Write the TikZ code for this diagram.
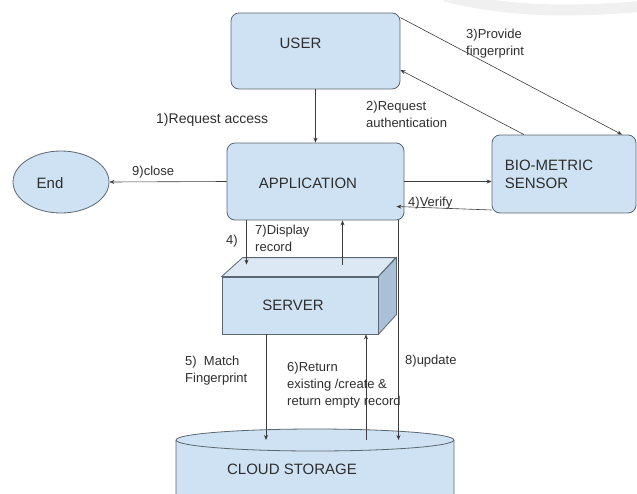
\documentclass[tikz,border=0pt]{standalone}
\usepackage{fontspec}
\setmainfont{Liberation Sans}
\usetikzlibrary{shapes.geometric}
\usetikzlibrary{arrows.meta}
\definecolor{boxfill}{HTML}{CFE2F3}
\definecolor{boxline}{HTML}{5B6770}
\definecolor{topfill}{HTML}{DCE8F4}
\definecolor{sidefill}{HTML}{A9C0D6}
\definecolor{linkcol}{HTML}{3C3C3C}
\definecolor{txtcol}{HTML}{2E2E2E}
\tikzset{
    mybox/.style = {rectangle, rounded corners=8pt, draw=boxline, line width=0.8pt, fill=boxfill, inner sep=0pt},
    mycube/.style = {rectangle, draw=boxline, line width=0.8pt, fill=boxfill, inner sep=0pt},
    myend/.style = {ellipse, draw=boxline, line width=0.8pt, fill=boxfill, inner sep=0pt},
    boxtext/.style = {font=\fontsize{15}{18}\selectfont, text=txtcol, align=left, inner sep=0pt},
    edgen/.style = {-{Stealth[length=5pt,width=4pt]}, line width=0.6pt, draw=linkcol},
    lbl/.style = {anchor=west, inner sep=0pt, align=left, font=\fontsize{13}{17}\selectfont, text=txtcol},
}
\begin{document}
\begin{tikzpicture}[x=1pt,y=-1pt]
\useasboundingbox (0,0) rectangle (637,493);
% faint arc in the top corner
\draw[line width=11pt, draw=gray!12] (445,-4) .. controls (510,13) and (580,12) .. (645,6);
%
\node[mybox, minimum width=169pt, minimum height=76pt, label={[boxtext,xshift=-15pt,yshift=8pt]center:USER}] at (315.5,51) (user) {};
\node[mybox, minimum width=177pt, minimum height=77pt, label={[boxtext,xshift=-7.5pt,yshift=-1.5pt]center:APPLICATION}] at (315.5,181.5) (app) {};
\node[mybox, minimum width=144pt, minimum height=78pt, label={[boxtext,xshift=-15pt]center:BIO-METRIC\\SENSOR}] at (564,174) (bio) {};
\node[myend, minimum width=96pt, minimum height=62pt, label={[boxtext,xshift=-11pt,yshift=-1pt]center:End}] at (61,182) (end) {};
%
% server drawn as a box with top and side faces
\node[mycube, minimum width=156pt, minimum height=57pt, label={[boxtext,xshift=-7pt]center:SERVER}] at (300,305.5) (server) {};
\path[draw=boxline, line width=0.8pt, fill=topfill] (server.north west) -- ++(21,-19) -- ++(153,0) -- (server.north east) -- cycle;
\path[draw=boxline, line width=0.8pt, fill=sidefill] (server.north east) -- ++(18,-19) -- ++(0,57) -- (server.south east) -- cycle;
%
% storage cylinder, cut by the lower edge
\path[draw=boxline, line width=0.8pt, fill=boxfill] (176,440) -- (176,520) -- (454,520) -- (454,440) arc[start angle=0, end angle=-180, x radius=139, y radius=11] -- cycle;
\draw[boxline, line width=0.8pt] (176,440) arc[start angle=180, end angle=0, x radius=139, y radius=11];
\node[boxtext] at (292,469) (cloud) {CLOUD STORAGE};
\coordinate (cloudtop) at (315,440);
\coordinate (srvtop) at ([yshift=12pt]server.north);
%
\draw[edgen] (user) -- (app);
\draw[edgen] ([xshift=-40pt]bio.north) -- ([yshift=-19pt]user.east);
\draw[edgen] ([yshift=-5pt]user.north east) -- ([xshift=58pt]bio.north);
\draw[edgen] (app.east) -- (app.east -| bio.west);
\draw[edgen] ([yshift=-36pt]bio.west) -- ([xshift=-8pt,yshift=-25pt]app.east);
\draw[edgen] (app.west) -- (end.east);
\draw[edgen] ([xshift=-69pt]app.south) -- ([xshift=-69pt]app.south |- srvtop);
\draw[edgen] ([xshift=27pt]app.south |- srvtop) -- ([xshift=27pt]app.south);
\draw[edgen] ([xshift=83pt]app.south) -- ([xshift=83pt]app.south |- cloudtop);
\draw[edgen] ([xshift=-34pt]server.south) -- ([xshift=-34pt]server.south |- cloudtop);
\draw[edgen] ([xshift=66pt]server.south |- cloudtop) -- ([xshift=66pt]server.south);
%
\node[lbl, font=\fontsize{14}{17}\selectfont] at (156,120) (lreq) {1)Request access};
\node[lbl] at (366,114.5) (lauth) {2)Request\\authentication};
\node[lbl] at (466,43.5) (lprov) {3)Provide\\fingerprint};
\node[lbl] at (408,203) (lver) {4)Verify};
\node[lbl] at (132,172) (lclose) {9)close};
\node[lbl] at (226,241) (lfour) {4)};
\node[lbl] at (255,238.5) (ldisp) {7)Display\\record};
\node[lbl] at (185,370.5) (lmatch) {5)\ \ Match\\Fingerprint};
\node[lbl] at (287,385) (lret) {6)Return\\existing /create \&\\return empty record};
\node[lbl] at (405,361) (lupd) {8)update};

\end{tikzpicture}
\end{document}
